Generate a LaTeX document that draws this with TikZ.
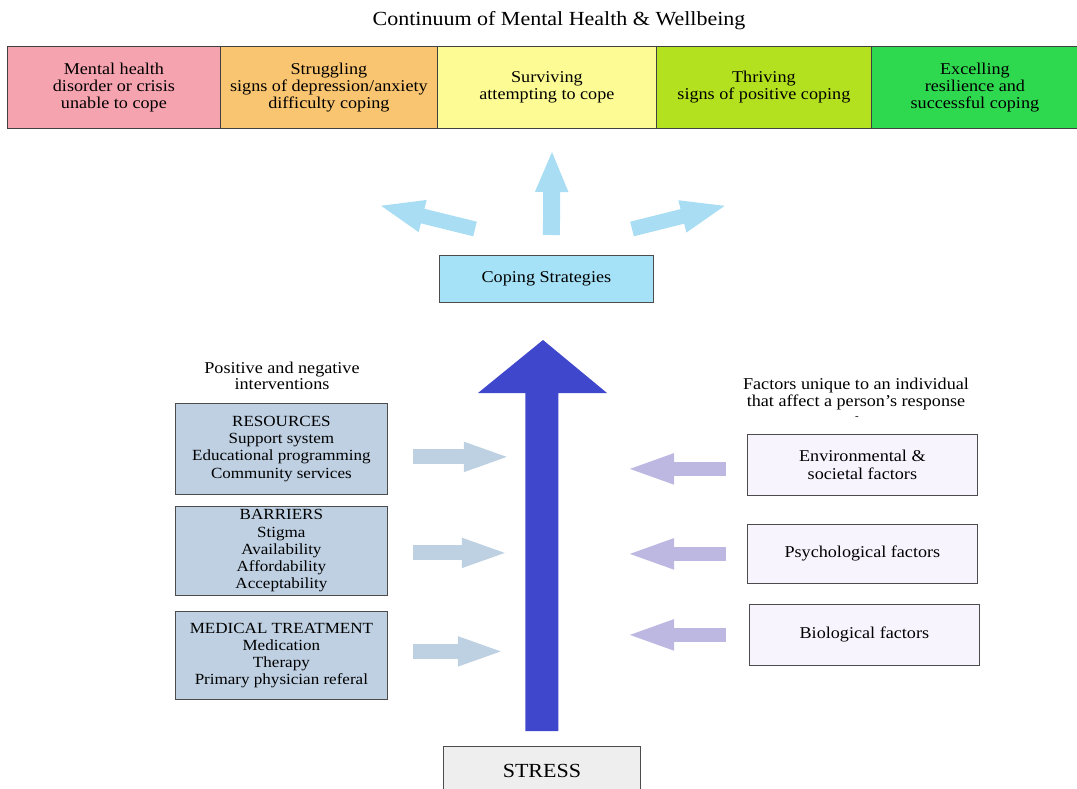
\documentclass[tikz,border=0pt]{standalone}
\usepackage{fontspec}
\setmainfont{Liberation Serif}[FakeStretch=1.1]
\usetikzlibrary{arrows.meta,positioning}
\definecolor{crisispink}{HTML}{F6A3B0}
\definecolor{struggleorange}{HTML}{FAC571}
\definecolor{surviveyellow}{HTML}{FDFC94}
\definecolor{thrivelime}{HTML}{B3E11F}
\definecolor{excelgreen}{HTML}{2ED84F}
\definecolor{copingblue}{HTML}{A6E2F7}
\definecolor{arrowsky}{HTML}{A8DDF4}
\definecolor{stressblue}{HTML}{3F48CC}
\definecolor{leftgray}{HTML}{BED0E2}
\definecolor{leftarrow}{HTML}{BDD1E3}
\definecolor{rightlilac}{HTML}{F7F4FE}
\definecolor{rightarrow}{HTML}{BDB8E1}
\definecolor{stressgray}{HTML}{EEEEEE}
\tikzset{
  band/.style={draw=black!75,line width=0.8pt,minimum height=82pt,anchor=north west,
    align=center,inner sep=2pt,font=\fontsize{16.5}{16.8}\selectfont},
  sidebox/.style={draw=black!70,line width=0.8pt,anchor=north west,align=center,
    inner sep=2pt,font=\fontsize{16.5}{18}\selectfont},
  leftbox/.style={sidebox,fill=leftgray,minimum width=212pt,font=\fontsize{15.5}{17.2}\selectfont},
  rightbox/.style={sidebox,fill=rightlilac,minimum width=230pt},
  blockarrow/.style n args={3}{line width=#1,-{Triangle[length=#2,width=#3]}},
}
\begin{document}
\begin{tikzpicture}[x=1pt,y=-1pt]
\useasboundingbox (0,0) rectangle (1077,789);
% continuum bar
\node (title) at (559,21) {\fontsize{20}{20}\selectfont Continuum of Mental Health \& Wellbeing};
\node[band,fill=crisispink,minimum width=213pt] (crisis) at (7,46) {Mental health\\disorder or crisis\\unable to cope};
\node[band,fill=struggleorange,minimum width=217pt] (struggle) at (220,46) {Struggling\\signs of depression/anxiety\\difficulty coping};
\node[band,fill=surviveyellow,minimum width=219pt] (survive) at (437,46) {Surviving\\attempting to cope};
\node[band,fill=thrivelime,minimum width=215pt] (thrive) at (656,46) {Thriving\\signs of positive coping};
\node[band,fill=excelgreen,minimum width=207pt] (excel) at (871,46) {Excelling\\resilience and\\successful coping};
% coping strategies
\node[sidebox,fill=copingblue,minimum width=214pt,minimum height=47pt] (coping) at (439,255) {Coping Strategies};
\coordinate (upL) at (378,205);
\coordinate (upC) at (552,150);
\coordinate (upR) at (728,205);
\draw[arrowsky,blockarrow={15pt}{46pt}{29pt}] (475,229) -- (upL);
\draw[arrowsky,blockarrow={17pt}{42pt}{30pt}] ([xshift=5pt,yshift=20pt]coping.north) -- (upC);
\draw[arrowsky,blockarrow={15pt}{47pt}{29pt}] (632,229) -- (upR);
% stress
\node[sidebox,fill=stressgray,minimum width=197pt,minimum height=50pt,font=\fontsize{20}{20}\selectfont] (stress) at (443,746) {STRESS};
\coordinate (stresstip) at (543,340);
\fill[stressblue] ([xshift=-16.5pt,yshift=15pt]stress.north) |- (478,393) -- (stresstip)
  -- (607,393) -| ([xshift=16.5pt,yshift=15pt]stress.north) -- cycle;
% interventions
\node[font=\fontsize{16.5}{16.5}\selectfont,align=center] (posneg) at (282,376) {Positive and negative\\interventions};
\node[leftbox,minimum height=91pt] (resources) at (175,403) {RESOURCES\\Support system\\Educational programming\\Community services};
\node[leftbox,minimum height=89pt] (barriers) at (175,506) {BARRIERS\\Stigma\\Availability\\Affordability\\Acceptability};
\node[leftbox,minimum height=88pt] (medical) at (175,611) {MEDICAL TREATMENT\\Medication\\Therapy\\Primary physician referal};
\draw[leftarrow,blockarrow={15pt}{48pt}{26pt}] ([xshift=25pt,yshift=-8pt]resources.east) -- ++(99,0);
\draw[leftarrow,blockarrow={15pt}{48pt}{26pt}] ([xshift=25pt,yshift=-2pt]barriers.east) -- ++(97,0);
\draw[leftarrow,blockarrow={15pt}{48pt}{26pt}] ([xshift=25pt,yshift=4pt]medical.east) -- ++(93,0);
% individual factors
\node[font=\fontsize{16.5}{17.5}\selectfont,align=center] (unique) at (856,394) {Factors unique to an individual\\that affect a person's response};
\node[font=\fontsize{10}{10}\selectfont] (dash) at (857,418) {-};
\node[rightbox,minimum height=61pt] (environ) at (747,434) {Environmental \&\\societal factors};
\node[rightbox,minimum height=59pt] (psych) at (747,524) {Psychological factors};
\node[rightbox,minimum height=61pt] (bio) at (749,604) {Biological factors};
\draw[rightarrow,blockarrow={14pt}{49pt}{27pt}] ([xshift=-21pt,yshift=-4pt]environ.west) -- ++(-101,0);
\draw[rightarrow,blockarrow={14pt}{49pt}{27pt}] ([xshift=-21pt]psych.west) -- ++(-101,0);
\draw[rightarrow,blockarrow={14pt}{49pt}{27pt}] ([xshift=-23pt]bio.west) -- ++(-101,0);
\end{tikzpicture}
\end{document}
